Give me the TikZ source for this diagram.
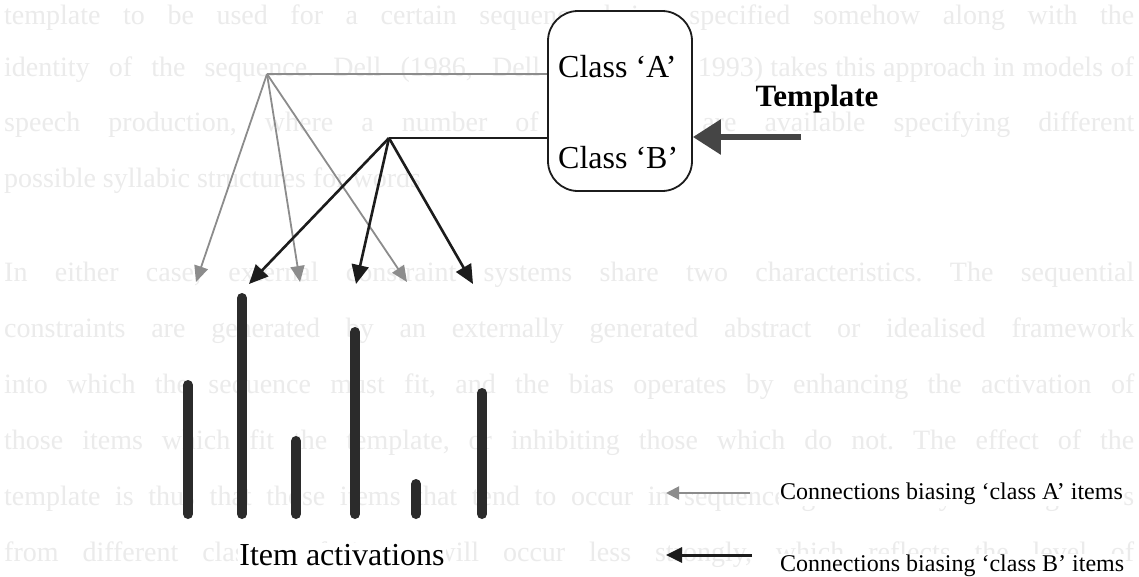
\documentclass[tikz,border=0pt]{standalone}
\usepackage{fontspec}
\setmainfont{Liberation Serif}
\usetikzlibrary{arrows.meta}

\definecolor{inkgrey}{HTML}{8C8C8C}
\definecolor{ink}{HTML}{1C1C1C}
\definecolor{barink}{HTML}{2B2B2B}
\definecolor{heavy}{HTML}{454545}
\definecolor{faint}{HTML}{EBEBEB}

\tikzset{
  bodytext/.style={anchor=base west, inner sep=0pt, text=faint,
    font=\fontsize{28}{30}\selectfont},
  tmplbox/.style={draw=ink, fill=white, line width=1.8pt, rounded corners=30pt,
    minimum width=144pt, minimum height=180pt, inner sep=0pt},
  classlabel/.style={anchor=west, inner sep=0pt, font=\fontsize{32}{36}\selectfont},
  greylink/.style={draw=inkgrey, line width=1.8pt},
  blacklink/.style={draw=ink, line width=2.6pt},
  greyarrow/.style={greylink, -{Triangle[length=16pt,width=14pt]}},
  blackarrow/.style={blacklink, -{Triangle[length=19pt,width=17pt]}},
  activation/.style={draw=barink, line width=10pt, line cap=round},
  legendtext/.style={anchor=west, inner sep=1pt, fill=white, font=\fontsize{24}{28}\selectfont},
}

\newcommand{\jline}[1]{\makebox[1130pt][s]{#1}}
\frenchspacing

\begin{document}
\begin{tikzpicture}[x=1pt, y=-1pt]
  \useasboundingbox[fill=white] (0,0) rectangle (1139,576);

  % running text of the page
  \node[bodytext] (p1) at (4,24)  {\jline{template to be used for a certain sequence being specified somehow along with the}};
  \node[bodytext] (p2a) at (4,76) {\makebox[536pt][s]{identity of the sequence. Dell (1986, Dell}};
  \node[bodytext, anchor=base east] (p2b) at (1134,76) {\makebox[436pt][s]{1993) takes this approach in models of}};
  \node[bodytext] (p3) at (4,131) {\jline{speech production, where a number of templates are available specifying different}};
  \node[bodytext] (p4) at (4,187) {possible syllabic structures for words};
  \node[bodytext] (p5) at (4,281) {\jline{In either case, external constraint systems share two characteristics. The sequential}};
  \node[bodytext] (p6) at (4,337) {\jline{constraints are generated by an externally generated abstract or idealised framework}};
  \node[bodytext] (p7) at (4,393) {\jline{into which the sequence must fit, and the bias operates by enhancing the activation of}};
  \node[bodytext] (p8) at (4,449) {\jline{those items which fit the template, or inhibiting those which do not. The effect of the}};
  \node[bodytext] (p9) at (4,505) {\jline{template is thus that those items that tend to occur in sequence generated by drawing items}};
  \node[bodytext] (p10) at (4,561) {\jline{from different classes of items will occur less strongly, which reflects the level of}};

  % template box
  \node[tmplbox] (tmpl) at (620,101) {};
  \node[classlabel] (ca) at (558,67)  {Class ‘A’};
  \node[classlabel] (cb) at (558,158) {Class ‘B’};

  \node[inner sep=0pt, font=\bfseries\fontsize{31}{34}\selectfont] (tlabel) at (817,99) {Template};
  \coordinate (tin) at (801,137);
  \draw[heavy, line width=6pt, -{Triangle[length=28pt,width=34pt]}] (tin) -- (tin -| tmpl.east);

  % fan-out points
  \coordinate (ga) at (267,74);
  \coordinate (ka) at (389,138);

  \coordinate (g1) at (196,282);
  \coordinate (g2) at (300,282);
  \coordinate (g3) at (407,282);
  \coordinate (k1) at (249,284);
  \coordinate (k2) at (356,284);
  \coordinate (k3) at (473,284);

  \draw[greylink] (tmpl.west |- ga) -- (ga);
  \draw[blacklink] (tmpl.west |- ka) -- (ka);

  \foreach \t in {g1,g2,g3} \draw[greyarrow] (ga) -- (\t);
  \foreach \t in {k1,k2,k3} \draw[blackarrow] (ka) -- (\t);

  % item activations
  \draw[activation] (188,385) -- (188,514);
  \draw[activation] (242,298) -- (242,514);
  \draw[activation] (296,441) -- (296,514);
  \draw[activation] (355,332) -- (355,514);
  \draw[activation] (416,484) -- (416,514);
  \draw[activation] (482,393) -- (482,514);

  \node[inner sep=1pt, fill=white, font=\fontsize{32}{36}\selectfont] (items) at (342,555) {Item activations};

  % legend
  \coordinate (la) at (750,493);
  \coordinate (lb) at (752,555);
  \draw[draw=inkgrey, line width=2pt, -{Triangle[length=13pt,width=13pt]}] (la) -- ++(-84,0);
  \draw[draw=ink, line width=3pt, -{Triangle[length=16pt,width=15pt]}] (lb) -- ++(-86,0);
  \node[legendtext] (lta) at (779,494) {Connections biasing ‘class A’ items};
  \node[legendtext] (ltb) at (779,566) {Connections biasing ‘class B’ items};
\end{tikzpicture}
\end{document}
